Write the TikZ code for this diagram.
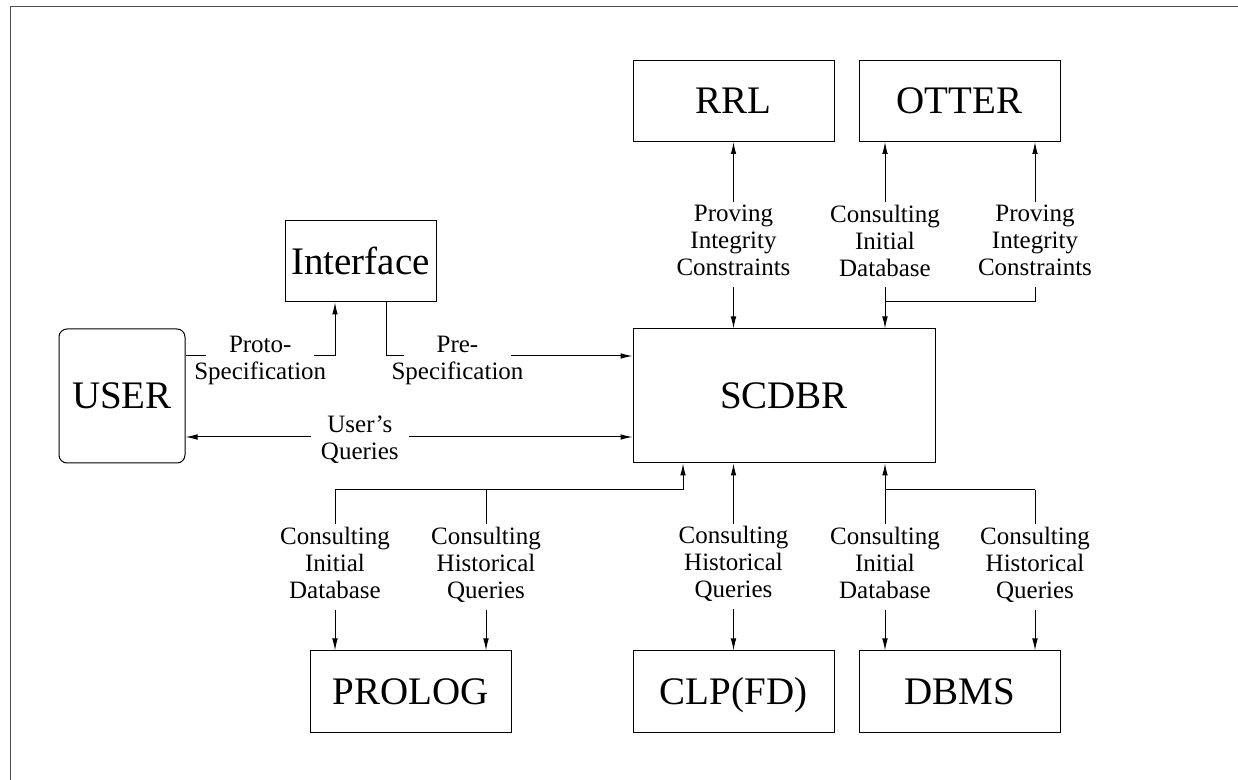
\documentclass[tikz,border=0pt]{standalone}
\usepackage{fontspec}
\setmainfont{Liberation Serif}
\usetikzlibrary{arrows.meta,positioning}

\begin{document}
\begin{tikzpicture}[x=0.5pt, y=-0.5pt, line width=0.5pt, >={Latex[length=6pt,width=2.8pt]},
  box/.style={draw, minimum width=100.5pt, minimum height=40.5pt, inner sep=0pt, text height=13pt, text depth=0pt, font=\fontsize{19.5}{20}\selectfont},
  lbl/.style={fill=white, align=center, inner sep=1.5pt, execute at begin node=\strut, execute at end node=\strut, font=\fontsize{12.5}{13.5}\selectfont}]
\path[use as bounding box] (0,0) rectangle (1238,780);
\draw[black!70] (10,780) -- (10,7) -- (1238,7);
\node[box] (RRL) at (733.5,101) {RRL};
\node[box] (OTTER) at (959.5,101) {OTTER};
\node[box, minimum width=75.5pt] (Interface) at (360.5,261.5) {Interface};
\node[box, rounded corners=4pt, minimum width=63pt, minimum height=67pt] (USER) at (122,396) {USER};
\node[box, minimum width=151pt, minimum height=67pt] (SCDBR) at (784,396) {SCDBR};
\node[box] (PROLOG) at (410.5,691.5) {PROLOG};
\node[box] (CLP) at (733.5,691.5) {CLP(FD)};
\node[box] (DBMS) at (959.5,691.5) {DBMS};
\coordinate (toA) at (885,302);
\coordinate (toB) at (1035,302);
\coordinate (proto) at (335,356);
\coordinate (pre) at (386,356);
\coordinate (uq) at (400,437);
\coordinate (bl) at (683,490);
\coordinate (pa) at (335,490);
\coordinate (pb) at (486,490);
\coordinate (da) at (885,490);
\coordinate (db) at (1035,490);
% provers
\draw[<->] (SCDBR.north -| RRL) -- node[lbl, pos=0.45] {Proving\\Integrity\\Constraints} (RRL.south);
\draw[<->] (SCDBR.north -| toA) -- node[lbl, pos=0.45] {Consulting\\Initial\\Database} (OTTER.south -| toA);
\draw[->] (toA) -| node[lbl, pos=0.68] {Proving\\Integrity\\Constraints} (OTTER.south -| toB);
% user and interface
\draw[->] (USER.east |- proto) -- node[lbl, inner xsep=-6pt, yshift=-3pt] {Proto-\\Specification} (proto) -- (Interface.south -| proto);
\draw[->] (Interface.south -| pre) -- (pre) -- node[lbl, inner xsep=-6pt, pos=0.29, yshift=-3pt] {Pre-\\Specification} (SCDBR.west |- pre);
\draw[<->] (USER.east |- uq) -- node[lbl, inner xsep=5pt, pos=0.39, yshift=-2.5pt] {User's\\Queries} (SCDBR.west |- uq);
% engines
\draw[->] (pa) -- (bl) -- (SCDBR.south -| bl);
\draw[->] (pa) -- node[lbl, pos=0.48] {Consulting\\Initial\\Database} (PROLOG.north -| pa);
\draw[->] (pb) -- node[lbl, pos=0.48] {Consulting\\Historical\\Queries} (PROLOG.north -| pb);
\draw[<->] (SCDBR.south -| CLP) -- node[lbl, pos=0.55] {Consulting\\Historical\\Queries} (CLP.north);
\draw[->] (db) -- (da) -- (SCDBR.south -| da);
\draw[->] (da) -- node[lbl, pos=0.48] {Consulting\\Initial\\Database} (DBMS.north -| da);
\draw[->] (db) -- node[lbl, pos=0.48] {Consulting\\Historical\\Queries} (DBMS.north -| db);
\end{tikzpicture}
\end{document}
